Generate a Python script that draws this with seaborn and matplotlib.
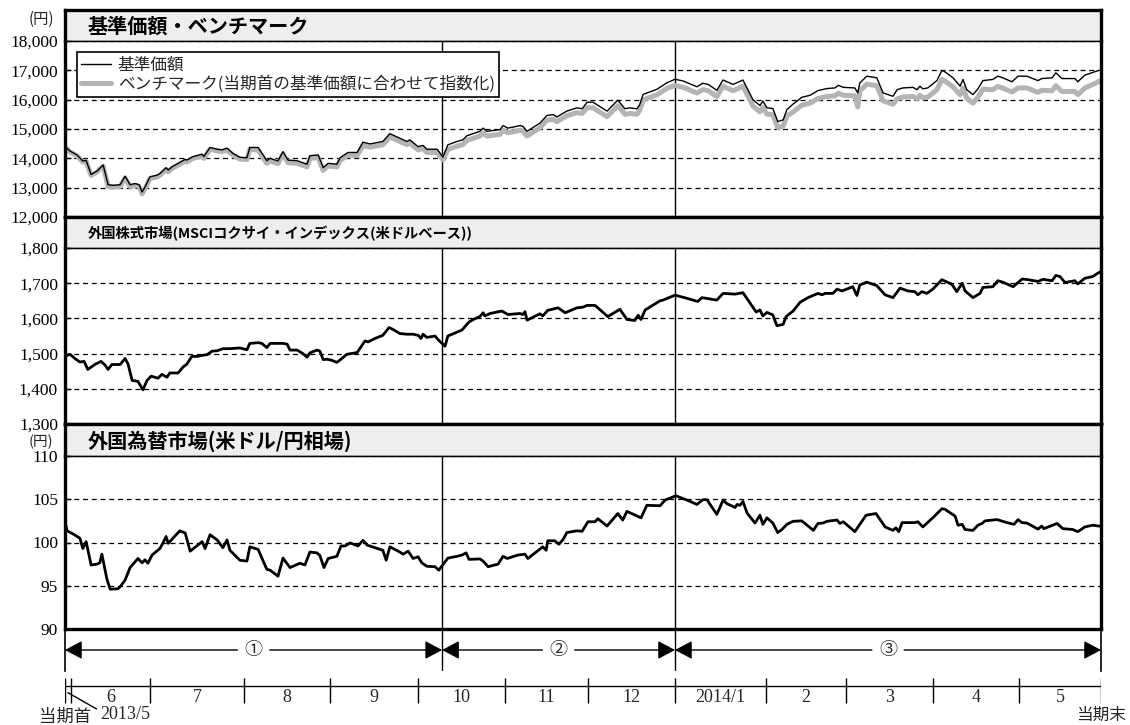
import matplotlib
matplotlib.use('Agg')
import matplotlib.pyplot as plt
import seaborn as sns

# x = trading-day index from 当期首 (0) to 当期末 (250)
nav_x = [0.0, 0.5, 1.2, 2.9, 4.3, 5.1, 6.3, 7.7, 9.2, 10.4,
         11.6, 13.3, 14.5, 15.7, 16.9, 17.9, 18.6, 19.3, 20.5, 22.2,
         22.9, 24.4, 24.9, 25.8, 27.3, 29.0, 29.4, 30.9, 33.1, 33.5,
         35.0, 36.7, 37.9, 39.1, 40.5, 42.2, 43.9, 44.6, 46.6, 48.7,
         49.5, 51.4, 52.6, 53.8, 56.0, 58.4, 59.1, 61.1, 62.3, 63.5,
         65.6, 66.4, 68.3, 70.5, 71.9, 73.6, 76.7, 78.4, 82.5, 83.2,
         85.2, 86.4, 87.3, 89.8, 91.2, 92.4, 94.6, 96.0, 97.0, 100.1,
         100.9, 101.8, 105.0, 105.7, 106.9, 109.8, 110.5, 111.5, 114.6, 116.3,
         117.8, 118.7, 121.1, 123.5, 124.8, 126.0, 127.4, 130.8, 133.4, 135.1,
         136.3, 138.0, 138.7, 139.5, 142.8, 145.3, 147.2, 149.1, 152.5, 153.9,
         155.2, 157.3, 158.8, 161.2, 163.6, 166.0, 167.7, 168.4, 169.4, 170.8,
         172.0, 173.3, 174.2, 175.7, 177.8, 179.8, 181.7, 183.9, 185.8, 186.6,
         187.8, 190.6, 191.3, 191.8, 193.5, 195.9, 197.4, 199.8, 200.8, 202.2,
         204.6, 205.6, 206.3, 207.0, 208.2, 210.4, 211.6, 212.3, 214.3, 216.0,
         216.7, 217.6, 219.1, 220.3, 221.5, 223.9, 225.1, 226.3, 228.5, 230.0,
         232.1, 234.8, 235.7, 238.2, 239.1, 240.6, 243.7, 244.4, 246.1, 249.0,
         249.5]
nav = [14400, 14345, 14250, 14115, 13908, 13930, 13450, 13563, 13770, 13100,
       13080, 13100, 13390, 13100, 13140, 13100, 12850, 13020, 13370, 13425,
       13480, 13680, 13600, 13710, 13830, 13965, 13940, 14060, 14140, 14060,
       14370, 14310, 14290, 14345, 14170, 14035, 14020, 14370, 14370, 13920,
       14000, 13910, 14230, 13940, 13920, 13800, 14090, 14115, 13680, 13830,
       13800, 14020, 14200, 14200, 14550, 14490, 14575, 14840, 14575, 14630,
       14400, 14440, 14310, 14310, 14040, 14460, 14575, 14630, 14770, 14920,
       15030, 14920, 14980, 15115, 15030, 15115, 15090, 14920, 15200, 15460,
       15490, 15410, 15610, 15720, 15690, 15915, 15915, 15610, 15985, 15690,
       15720, 15690, 15835, 16180, 16350, 16580, 16695, 16640, 16440, 16560,
       16520, 16320, 16670, 16520, 16670, 16000, 15800, 15950, 15720, 15700,
       15255, 15310, 15660, 15850, 16080, 16150, 16310, 16380, 16400, 16490,
       16420, 16400, 16230, 16570, 16800, 16745, 16230, 16115, 16340, 16400,
       16420, 16340, 16460, 16370, 16400, 16650, 17000, 16950, 16745, 16460,
       16690, 16340, 16170, 16370, 16650, 16690, 16800, 16745, 16610, 16800,
       16800, 16650, 16720, 16745, 16915, 16720, 16720, 16610, 16835, 16975,
       17000]
bench = [14370, 14315, 14220, 14085, 13878, 13900, 13420, 13533, 13740, 13040,
         13020, 13040, 13330, 13040, 13080, 13040, 12790, 12960, 13310, 13365,
         13420, 13620, 13540, 13650, 13770, 13905, 13880, 14000, 14080, 14000,
         14310, 14250, 14230, 14285, 14110, 13975, 13960, 14310, 14280, 13830,
         13910, 13820, 14140, 13850, 13830, 13710, 14000, 14025, 13590, 13740,
         13710, 13930, 14110, 14090, 14440, 14380, 14465, 14730, 14465, 14520,
         14290, 14330, 14200, 14200, 13950, 14300, 14415, 14470, 14610, 14760,
         14870, 14760, 14820, 14955, 14870, 14955, 14930, 14760, 15040, 15300,
         15330, 15250, 15450, 15560, 15530, 15725, 15725, 15420, 15795, 15500,
         15530, 15500, 15645, 15990, 16160, 16390, 16480, 16425, 16225, 16345,
         16305, 16105, 16455, 16305, 16455, 15785, 15585, 15735, 15505, 15485,
         15050, 15095, 15445, 15580, 15810, 15880, 16040, 16110, 16130, 16220,
         16150, 16130, 15750, 16300, 16530, 16475, 15960, 15845, 16030, 16090,
         16110, 16030, 16150, 16060, 16090, 16340, 16690, 16640, 16435, 16170,
         16400, 16050, 15880, 16080, 16360, 16340, 16450, 16395, 16260, 16400,
         16400, 16250, 16320, 16305, 16475, 16280, 16280, 16170, 16395, 16585,
         16630]

msci_x = [0.0, 0.5, 1.2, 2.4, 3.6, 4.6, 5.5, 7.2, 8.7, 9.7,
          10.4, 11.3, 13.3, 14.5, 15.2, 16.2, 17.6, 18.8, 19.8, 20.8,
          22.4, 23.4, 24.6, 25.3, 27.3, 28.5, 29.4, 30.6, 31.9, 33.1,
          34.3, 35.5, 36.7, 38.1, 39.8, 42.2, 43.9, 44.6, 46.6, 47.5,
          48.7, 49.5, 52.6, 53.6, 54.3, 56.0, 57.4, 58.4, 59.1, 60.8,
          61.5, 62.3, 63.2, 64.4, 65.6, 66.8, 68.0, 70.5, 72.4, 73.1,
          74.8, 76.7, 78.2, 79.1, 80.8, 82.5, 84.0, 85.2, 85.9, 86.4,
          87.3, 89.3, 90.0, 91.7, 92.4, 94.6, 95.8, 97.5, 98.9, 100.1,
          100.9, 101.3, 102.6, 105.4, 106.9, 109.8, 110.5, 111.0, 111.5, 113.9,
          114.6, 115.3, 116.5, 119.0, 120.7, 123.5, 125.0, 126.0, 127.9, 131.0,
          133.9, 135.6, 137.5, 138.3, 139.0, 140.0, 143.6, 144.3, 147.2, 150.1,
          152.7, 153.7, 157.3, 158.8, 161.7, 163.6, 166.8, 167.7, 168.4, 169.4,
          170.8, 171.8, 173.3, 174.0, 175.7, 177.4, 179.3, 181.7, 182.7, 183.4,
          185.3, 186.3, 187.5, 190.1, 191.1, 191.8, 193.5, 195.9, 197.9, 199.8,
          201.5, 203.4, 205.1, 205.8, 206.8, 208.0, 209.5, 211.6, 214.0, 215.2,
          216.5, 217.2, 219.1, 220.8, 221.5, 223.9, 225.1, 226.3, 228.8, 231.0,
          232.4, 234.8, 236.0, 238.2, 239.1, 240.1, 241.3, 243.7, 244.4, 246.1,
          248.0, 249.3, 250.0]
msci = [1500, 1495, 1498, 1486, 1476, 1478, 1455, 1469, 1478, 1467,
        1455, 1469, 1469, 1486, 1471, 1424, 1421, 1397, 1424, 1436,
        1430, 1441, 1433, 1445, 1445, 1462, 1470, 1492, 1492, 1495,
        1497, 1507, 1508, 1514, 1514, 1516, 1511, 1529, 1531, 1529,
        1517, 1529, 1529, 1527, 1510, 1510, 1500, 1490, 1502, 1510,
        1507, 1483, 1484, 1481, 1475, 1486, 1498, 1503, 1536, 1533,
        1543, 1552, 1574, 1569, 1557, 1555, 1555, 1552, 1543, 1555,
        1546, 1550, 1540, 1521, 1550, 1561, 1567, 1590, 1599, 1605,
        1616, 1607, 1614, 1621, 1611, 1614, 1611, 1619, 1595, 1609,
        1613, 1607, 1623, 1630, 1616, 1630, 1632, 1637, 1637, 1605,
        1626, 1597, 1594, 1609, 1597, 1624, 1650, 1652, 1666, 1657,
        1648, 1659, 1652, 1671, 1669, 1673, 1618, 1624, 1607, 1617,
        1610, 1579, 1583, 1605, 1621, 1646, 1659, 1671, 1667, 1671,
        1671, 1683, 1678, 1690, 1665, 1695, 1703, 1693, 1667, 1659,
        1686, 1678, 1676, 1667, 1676, 1671, 1684, 1710, 1697, 1676,
        1700, 1678, 1659, 1671, 1688, 1690, 1707, 1703, 1690, 1712,
        1710, 1705, 1711, 1707, 1722, 1719, 1702, 1707, 1698, 1714,
        1719, 1729, 1733]

fx_x = [0.0, 0.5, 1.9, 3.6, 4.3, 5.1, 6.3, 7.7, 8.4, 8.9,
        10.1, 10.9, 12.8, 13.5, 14.5, 15.7, 17.6, 18.6, 19.3, 20.0,
        21.0, 22.9, 23.6, 24.4, 24.9, 27.7, 29.0, 30.2, 33.1, 33.8,
        35.0, 36.7, 38.1, 39.1, 39.8, 42.2, 43.9, 44.6, 46.6, 48.7,
        49.5, 51.4, 52.6, 54.3, 56.7, 57.9, 59.1, 60.8, 61.5, 62.5,
        63.5, 65.6, 66.6, 67.6, 68.8, 70.7, 71.9, 72.9, 74.8, 76.7,
        77.5, 78.4, 80.8, 81.6, 82.8, 84.0, 85.2, 86.1, 87.3, 89.3,
        90.2, 92.4, 94.6, 95.8, 96.8, 97.5, 100.1, 100.9, 102.1, 104.5,
        105.7, 106.7, 109.3, 111.0, 111.7, 114.1, 115.3, 116.1, 116.5, 118.2,
        119.2, 120.2, 121.1, 123.5, 124.8, 126.2, 127.9, 128.6, 130.8, 133.4,
        134.6, 135.6, 139.0, 140.4, 143.6, 144.8, 147.4, 150.1, 152.5, 153.9,
        154.9, 157.3, 158.8, 159.7, 161.7, 162.2, 162.9, 163.6, 164.6, 166.5,
        167.7, 168.4, 169.4, 170.8, 172.0, 173.0, 174.2, 175.7, 177.8, 180.6,
        181.7, 182.9, 183.9, 186.3, 187.0, 187.8, 190.6, 191.8, 193.3, 195.7,
        197.9, 199.8, 200.5, 201.2, 202.0, 205.1, 205.8, 207.0, 209.5, 211.6,
        212.3, 214.8, 215.5, 216.5, 217.2, 219.1, 220.3, 221.3, 222.0, 224.9,
        227.3, 229.0, 230.0, 230.9, 232.1, 234.8, 235.7, 236.2, 239.4, 240.8,
        243.2, 244.4, 246.1, 248.0, 249.5, 250.0]
fx = [102.5, 101.35, 101.0, 100.5, 99.3, 100.1, 97.4, 97.5, 97.65, 98.65,
      95.8, 94.6, 94.65, 95.0, 95.65, 97.1, 98.15, 97.65, 98.0, 97.6,
      98.55, 99.3, 99.9, 100.7, 99.9, 101.35, 101.1, 99.0, 100.1, 99.3,
      100.9, 100.3, 99.4, 100.3, 99.1, 97.95, 97.85, 99.5, 99.2, 96.9,
      96.8, 96.1, 98.2, 97.1, 97.6, 97.4, 98.9, 98.8, 98.5, 97.1,
      98.15, 98.4, 99.6, 99.6, 99.95, 99.6, 100.25, 99.7, 99.4, 99.1,
      97.95, 99.5, 98.9, 98.65, 99.0, 98.15, 98.35, 97.65, 97.25, 97.2,
      96.8, 98.2, 98.4, 98.55, 98.8, 98.05, 98.1, 97.85, 97.2, 97.5,
      98.4, 98.15, 98.55, 98.65, 98.15, 99.05, 99.5, 99.1, 100.2, 100.2,
      99.8, 100.35, 101.15, 101.35, 101.3, 102.4, 102.4, 102.75, 101.9, 103.35,
      102.6, 103.6, 102.85, 104.3, 104.25, 104.9, 105.4, 104.9, 104.4, 104.95,
      104.95, 103.25, 104.9, 104.5, 104.05, 104.4, 104.3, 104.75, 103.4, 102.25,
      103.15, 102.1, 102.85, 102.25, 101.15, 101.5, 102.1, 102.45, 102.5, 101.4,
      102.2, 102.25, 102.45, 102.6, 102.2, 102.4, 101.25, 102.1, 103.15, 103.35,
      101.8, 101.4, 101.7, 101.25, 102.3, 102.3, 102.4, 101.8, 102.9, 103.9,
      103.85, 103.05, 102.0, 102.1, 101.5, 101.4, 102.0, 102.2, 102.5, 102.65,
      102.3, 102.1, 102.65, 102.3, 102.25, 101.55, 101.9, 101.6, 102.2, 101.6,
      101.5, 101.25, 101.8, 102.0, 101.9, 101.9]

month_edges = [0, 1.4, 20.5, 43.2, 63.9, 85.2, 106.2, 126.2, 147.2, 169.1, 188.5, 209.5, 230.3, 250]
month_labels = ['6', '7', '8', '9', '10', '11', '12', '2014/1', '2', '3', '4', '5']
period_edges = [0, 91.0, 147.2, 250]
period_labels = ['①', '②', '③']

titles = ['基準価額・ベンチマーク',
          '外国株式市場(MSCIコクサイ・インデックス(米ドルベース))',
          '外国為替市場(米ドル/円相場)']
legend_labels = ['基準価額', 'ベンチマーク(当期首の基準価額に合わせて指数化)']

sns.set_theme(style='white')
plt.rcParams['font.family'] = ['Noto Sans CJK JP', 'DejaVu Sans']
SERIF = ['Liberation Serif', 'DejaVu Serif']

W, H = 1130, 725
X0, X1 = 65, 1101


def box(x0, y0, x1, y1):
    return [x0 / W, 1 - y1 / H, (x1 - x0) / W, (y1 - y0) / H]


fig = plt.figure(figsize=(W / 100, H / 100), dpi=100)
fig.patch.set_facecolor('white')

panels = [
    dict(head=(10, 41), body=(41, 217), ylim=(12000, 18000), step=1000, tsize=14.5),
    dict(head=(217, 248), body=(248, 424), ylim=(1300, 1800), step=100, tsize=10.3),
    dict(head=(424, 456), body=(456, 629), ylim=(90, 110), step=5, tsize=14.5),
]

axes = []
for i, p in enumerate(panels):
    hx = fig.add_axes(box(X0, p['head'][0], X1, p['head'][1]))
    hx.set_facecolor('#eeeeee')
    hx.set_xticks([])
    hx.set_yticks([])
    for s in hx.spines.values():
        s.set_color('black')
    hx.spines['left'].set_linewidth(2.4)
    hx.spines['right'].set_linewidth(2.4)
    hx.spines['top'].set_linewidth(2.4)
    hx.spines['bottom'].set_linewidth(1)
    hx.text(0.022, 0.47, titles[i], transform=hx.transAxes, ha='left', va='center',
            fontsize=p['tsize'], fontweight='bold', color='black')

    ax = fig.add_axes(box(X0, p['body'][0], X1, p['body'][1]))
    ax.set_xlim(0, 250)
    lo, hi = p['ylim']
    ticks = list(range(lo, hi + 1, p['step']))
    ax.set_ylim(lo, hi)
    ax.set_yticks(ticks)
    ax.set_yticklabels([f'{t:,}' for t in ticks], fontfamily=SERIF, fontsize=12.5)
    ax.set_xticks([])
    ax.tick_params(axis='y', direction='in', length=4, width=1, pad=5, left=True, colors='black')
    ax.grid(axis='y', color='black', linestyle=(0, (4, 3)), linewidth=0.9)
    ax.grid(axis='x', visible=False)
    for s in ax.spines.values():
        s.set_color('black')
    ax.spines['left'].set_linewidth(2.4)
    ax.spines['right'].set_linewidth(2.4)
    ax.spines['bottom'].set_linewidth(2.4)
    ax.spines['top'].set_linewidth(1)
    for e in period_edges[1:-1]:
        ax.axvline(e, color='black', lw=1, zorder=1.5)
    axes.append(ax)

ax1, ax2, ax3 = axes

sns.lineplot(x=nav_x, y=bench, ax=ax1, color='#b4b4b4', lw=3.6, estimator=None, sort=False,
             label=legend_labels[1])
sns.lineplot(x=nav_x, y=nav, ax=ax1, color='black', lw=1.0, estimator=None, sort=False,
             label=legend_labels[0])
handles, labels = ax1.get_legend_handles_labels()
leg = ax1.legend(handles[::-1], labels[::-1], loc='upper left', bbox_to_anchor=(0.0116, 0.935),
                 borderaxespad=0, frameon=True, fancybox=False, edgecolor='black', framealpha=1,
                 fontsize=12, handlelength=1.8, handletextpad=0.4, borderpad=0.25, labelspacing=0.1)
leg.get_frame().set_linewidth(1.2)
leg.set_zorder(5)

sns.lineplot(x=msci_x, y=msci, ax=ax2, color='black', lw=2.0, estimator=None, sort=False)
sns.lineplot(x=fx_x, y=fx, ax=ax3, color='black', lw=2.0, estimator=None, sort=False)
for ax in axes:
    ax.set_xlim(0, 250)
    ax.set_xlabel('')
    ax.set_ylabel('')

fig.text(41 / W, 1 - 19 / H, '(円)', ha='center', va='center', fontsize=11)
fig.text(41 / W, 1 - 442 / H, '(円)', ha='center', va='center', fontsize=10.5)

# period arrows
axa = fig.add_axes(box(X0, 629, X1, 671))
axa.set_xlim(0, 250)
axa.set_ylim(0, 1)
axa.set_xticks([])
axa.set_yticks([])
axa.set_facecolor('none')
for k in ['top', 'bottom']:
    axa.spines[k].set_visible(False)
for k in ['left', 'right']:
    axa.spines[k].set_color('black')
    axa.spines[k].set_linewidth(1.2)
for e in period_edges[1:-1]:
    axa.axvline(e, color='black', lw=1)
ya = 0.5
gap = 3.9
for a, b, lab in zip(period_edges[:-1], period_edges[1:], period_labels):
    mid = (a + b) / 2
    for tip, tail in [(a, mid - gap), (b, mid + gap)]:
        axa.annotate('', xy=(tip, ya), xytext=(tail, ya),
                     arrowprops=dict(arrowstyle='-|>,head_length=0.75,head_width=0.4',
                                     mutation_scale=14, color='black', lw=1,
                                     shrinkA=0, shrinkB=0))
    axa.text(mid, ya, lab, ha='center', va='center', fontsize=13)

# month axis
axm = fig.add_axes(box(X0, 676, X1, 725))
axm.set_xlim(0, 250)
axm.set_ylim(0, 1)
axm.axis('off')
axm.axhline(0.796, color='black', lw=1)
axm.vlines(month_edges, 0.449, 0.959, colors='black', lw=1)
for i, lab in enumerate(month_labels):
    c = (month_edges[i + 1] + month_edges[i + 2]) / 2
    axm.text(c, 0.56, lab, ha='center', va='center', fontsize=13, fontfamily=SERIF)
axm.text(0, 0.16, '当期首', ha='center', va='center', fontsize=12.5)
axm.text(250, 0.2, '当期末', ha='center', va='center', fontsize=12)
axm.annotate('2013/5', xy=(0.7, 0.66), xytext=(8.4, 0.22), ha='left', va='center',
             fontsize=13, fontfamily=SERIF,
             arrowprops=dict(arrowstyle='-', color='black', lw=1, shrinkA=0, shrinkB=0,
                             relpos=(0, 0.7)))

fig.savefig('out.png', dpi=100)
